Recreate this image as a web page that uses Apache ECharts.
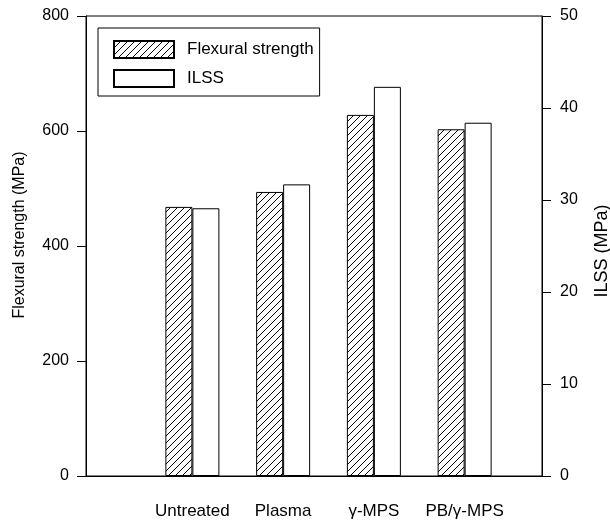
<!DOCTYPE html>
<html>
<head>
<meta charset="utf-8">
<script src="https://cdn.jsdelivr.net/npm/echarts@6/dist/echarts.min.js"></script>
<style>
	html, body { margin: 0; padding: 0; background: #fff; }
	#main { width: 610px; height: 523px; }
</style>
</head>
<body>
<div id="main"></div>
<script>
	var categories = ['Untreated', 'Plasma', 'γ-MPS', 'PB/γ-MPS'];
	var flexural = [468, 494, 628, 603];
	var ilss = [29.1, 31.7, 42.3, 38.4];
	var leftTicks = [0, 800, 200];
	var rightTicks = [0, 50, 10];

	var font = "'Liberation Sans', Arial, sans-serif";

	// diagonal hatch tile
	var tile = document.createElement('canvas');
	tile.width = 7;
	tile.height = 7;
	var ctx = tile.getContext('2d');
	ctx.fillStyle = '#fff';
	ctx.fillRect(0, 0, 7, 7);
	ctx.strokeStyle = '#000';
	ctx.lineWidth = 1;
	ctx.beginPath();
	ctx.moveTo(-1, 8); ctx.lineTo(8, -1);
	ctx.moveTo(-1, 1); ctx.lineTo(1, -1);
	ctx.moveTo(6, 8); ctx.lineTo(8, 6);
	ctx.stroke();
	var hatch = { image: tile, repeat: 'repeat' };

	var chart = echarts.init(document.getElementById('main'));
	chart.setOption({
		animation: false,
		textStyle: { fontFamily: font, color: '#000' },
		legend: {
			orient: 'vertical',
			left: 98, top: 28,
			padding: [12, 6, 8, 15],
			itemWidth: 60, itemHeight: 17, itemGap: 10,
			icon: 'rect',
			borderColor: '#000', borderWidth: 1,
			textStyle: { fontSize: 17, color: '#000', fontFamily: font, padding: [0, 0, 0, 8] },
			data: ['Flexural strength', 'ILSS']
		},
		grid: [
			{ left: 86, right: 68, top: 16, bottom: 47, show: true, borderColor: '#000', borderWidth: 1,
				containLabel: false, outerBoundsMode: 'none' },
			{ left: 147, right: 100, top: 16, bottom: 47, containLabel: false, outerBoundsMode: 'none' }
		],
		xAxis: [
			{
				type: 'value', gridIndex: 0, min: 0, max: 1,
				axisLine: { show: true, lineStyle: { color: '#000' } },
				axisTick: { show: false }, axisLabel: { show: false }, splitLine: { show: false }
			},
			{
				type: 'category', gridIndex: 1, data: categories,
				axisLine: { show: false }, axisTick: { show: false },
				axisLabel: { interval: 0, fontSize: 17, color: '#000', margin: 27, fontFamily: font }
			}
		],
		yAxis: [
			{
				type: 'value', gridIndex: 0, position: 'left',
				min: leftTicks[0], max: leftTicks[1], interval: leftTicks[2],
				name: 'Flexural strength (MPa)', nameLocation: 'middle', nameGap: 58,
				nameTextStyle: { fontSize: 16, color: '#000', fontFamily: font, padding: [0, 0, 0, 22] },
				axisLine: { show: true, lineStyle: { color: '#000' } },
				axisTick: { show: true, length: 9, lineStyle: { color: '#000' } },
				axisLabel: { fontSize: 16, color: '#000', margin: 17, fontFamily: font },
				splitLine: { show: false }
			},
			{
				type: 'value', gridIndex: 0, position: 'right',
				min: rightTicks[0], max: rightTicks[1], interval: rightTicks[2],
				name: 'ILSS (MPa)', nameLocation: 'middle', nameGap: 51,
				nameTextStyle: { fontSize: 18, color: '#000', fontFamily: font, padding: [0, 10, 0, 0] },
				axisLine: { show: true, lineStyle: { color: '#000' } },
				axisTick: { show: true, length: 9, lineStyle: { color: '#000' } },
				axisLabel: { fontSize: 16, color: '#000', margin: 18, fontFamily: font },
				splitLine: { show: false }
			},
			{ type: 'value', gridIndex: 1, min: leftTicks[0], max: leftTicks[1], show: false },
			{ type: 'value', gridIndex: 1, min: rightTicks[0], max: rightTicks[1], show: false }
		],
		series: [
			{
				name: 'Flexural strength', type: 'bar', xAxisIndex: 1, yAxisIndex: 2,
				barWidth: 27, barGap: '0%', data: flexural,
				itemStyle: { color: hatch, borderColor: '#000', borderWidth: 1 }
			},
			{
				name: 'ILSS', type: 'bar', xAxisIndex: 1, yAxisIndex: 3,
				barWidth: 27, barGap: '0%', data: ilss,
				itemStyle: { color: '#fff', borderColor: '#000', borderWidth: 1 }
			}
		]
	});
</script>
</body>
</html>
